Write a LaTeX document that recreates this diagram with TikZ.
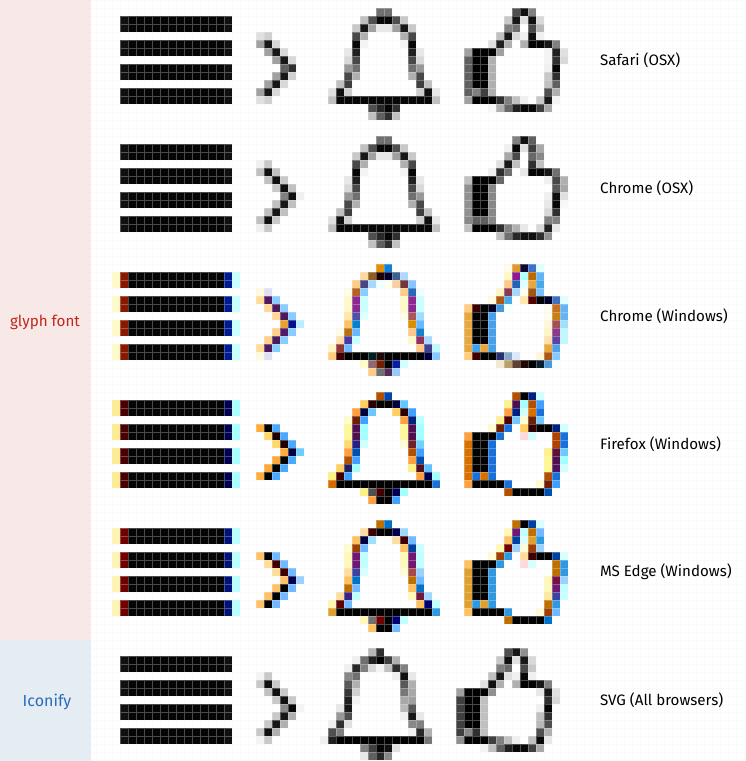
\documentclass[tikz,border=0pt]{standalone}
\usepackage{fontspec}
\setmainfont{Fira Sans}

\definecolor{glyphbg}{HTML}{F8E8E6}
\definecolor{iconifybg}{HTML}{E4ECF4}
\definecolor{glyphred}{HTML}{C0281C}
\definecolor{iconifyblue}{HTML}{2A6CB8}

% one row of cells: column/colour pairs
\newcommand{\pixrow}[2]{%
    \foreach \k/\h in {#2} {
        \definecolor{pixcol}{HTML}{\h}
        \fill[pixcol] (\k*8,#1*8) rectangle ++(8,8);
    }
}
\newcommand{\grayrow}[2]{%
    \foreach \k/\h in {#2} {
        \edef\hh{\h\h\h}
        \definecolor{pixcol}{HTML}{\hh}
        \fill[pixcol] (\k*8,#1*8) rectangle ++(8,8);
    }
}
\newcommand{\pixspan}[4]{%
    \definecolor{pixcol}{HTML}{#4}
    \fill[pixcol] (#2*8,#1*8) rectangle (#3*8+8,#1*8+8);
}
\newcommand{\menubars}[4]{%
    \foreach \r in {2,3,5,6,8,9,11,12} {
        \pixrow{\r}{14/#1,15/#2,28/#3,29/#4}
        \pixspan{\r}{16}{27}{050505}
    }
}

% gray icons
\newcommand{\chevronSafari}{
    \grayrow{4}{32/E0,33/D0}
    \grayrow{5}{32/A0,33/18,34/D8}
    \grayrow{6}{33/A0,34/18,35/D8}
    \grayrow{7}{34/A0,35/18,36/D8}
    \grayrow{8}{35/60,36/30}
    \grayrow{9}{34/A0,35/18,36/D0}
    \grayrow{10}{33/A0,34/18,35/D8}
    \grayrow{11}{32/A0,33/18,34/D8}
    \grayrow{12}{32/E0,33/D0}
}
\newcommand{\chevronChrome}{
    \grayrow{4}{32/F0,33/C8}
    \grayrow{5}{32/C0,33/10,34/C0}
    \grayrow{6}{33/C0,34/10,35/C8}
    \grayrow{7}{34/C8,35/10,36/C0}
    \grayrow{8}{35/80,36/10,37/F0}
    \grayrow{9}{34/C0,35/18,36/C0}
    \grayrow{10}{33/C0,34/18,35/C0}
    \grayrow{11}{32/C0,33/10,34/C8}
    \grayrow{12}{32/F0,33/C8}
}
\newcommand{\chevronSvg}{
    \grayrow{4}{32/F4,33/C8}
    \grayrow{5}{32/C8,33/10,34/C8}
    \grayrow{6}{33/C0,34/10,35/C8}
    \grayrow{7}{34/C8,35/10,36/C8}
    \grayrow{8}{35/88,36/08,37/F4}
    \grayrow{9}{34/C8,35/18,36/B0}
    \grayrow{10}{33/C8,34/18,35/B0}
    \grayrow{11}{32/C8,33/10,34/B0}
    \grayrow{12}{32/F4,33/C8}
}
\newcommand{\bellOsx}{
    \grayrow{1}{47/70,48/70}
    \grayrow{2}{45/C0,46/50,47/08,48/08,49/50,50/C8}
    \grayrow{3}{44/C8,45/18,46/A0,47/E8,48/E8,49/A0,50/18,51/C8}
    \grayrow{4}{44/48,45/B0,50/B0,51/48}
    \grayrow{5}{44/08,45/F4,50/F4,51/08}
    \grayrow{6}{43/E8,44/20,51/20,52/E8}
    \grayrow{7}{43/D8,44/48,51/48,52/D8}
    \grayrow{8}{43/98,44/70,51/70,52/98}
    \grayrow{9}{43/48,44/B0,51/B0,52/48}
    \grayrow{10}{42/C0,43/40,52/40,53/C0}
    \grayrow{11}{41/E0,42/10,43/D0,52/D0,53/10,54/E8}
    \grayrow{12}{41/C0,54/C0}
    \pixspan{12}{42}{53}{080808}
    \grayrow{13}{46/50,47/28,48/05,49/30}
    \grayrow{14}{46/C0,47/60,48/30,49/C0}
}
\newcommand{\thumbSafari}{
    \grayrow{1}{64/50,65/10,66/80}
    \grayrow{2}{63/C8,64/18,65/E0,66/10,67/D8}
    \grayrow{3}{63/80,64/70,66/48,67/B8}
    \grayrow{4}{62/C0,63/18,64/D8,65/F0,66/10,67/F0}
    \grayrow{5}{61/E0,62/20,63/B0,65/B0,66/05,67/05,68/18,69/80}
    \grayrow{6}{58/A0,59/00,60/00,61/00,62/A0,68/F4,69/20,70/E0}
    \grayrow{7}{58/60,59/00,60/00,61/B0,68/F4,69/30,70/D8}
    \grayrow{8}{58/60,59/00,60/00,61/B0,68/F0,69/05}
    \grayrow{9}{58/60,59/00,60/00,61/B0,68/C8,69/30}
    \grayrow{10}{58/60,59/00,60/00,61/B0,68/C0,69/60}
    \grayrow{11}{58/60,59/80,60/40,61/B0,68/50,69/B0}
    \grayrow{12}{58/A0,59/00,60/00,61/00,62/30,63/80,64/C0,65/F0,67/C8,68/18,69/F4}
    \grayrow{13}{61/F8,62/B0,63/68,64/20,65/08,66/08,67/40,68/A8}
}
\newcommand{\thumbChrome}{
    \grayrow{1}{64/80,65/10,66/60}
    \grayrow{2}{63/F0,64/08,65/E0,66/40,67/A8}
    \grayrow{3}{63/A8,64/48,66/68,67/88}
    \grayrow{4}{62/E0,63/18,64/C0,66/30,67/C0}
    \grayrow{5}{61/F0,62/30,63/70,65/E8,66/05,67/05,68/18,69/70}
    \grayrow{6}{58/C0,59/00,60/00,61/00,62/68,68/F0,69/48,70/B0}
    \grayrow{7}{58/90,59/00,60/00,61/88,69/58,70/A8}
    \grayrow{8}{58/90,59/00,60/00,61/88,68/F0,69/10,70/E0}
    \grayrow{9}{58/90,59/00,60/00,61/88,68/E8,69/08,70/F8}
    \grayrow{10}{58/90,59/00,60/00,61/88,68/D8,69/30}
    \grayrow{11}{58/88,59/60,60/60,61/88,68/80,69/80}
    \grayrow{12}{58/C0,59/00,60/00,61/00,62/30,63/80,64/B0,65/E8,67/D8,68/20,69/E8}
    \grayrow{13}{62/C0,63/70,64/28,65/10,66/10,67/30,68/90}
}

\begin{document}
\begin{tikzpicture}[
    x=1pt, y=-1pt,
    gridline/.style={draw=gridgray, line width=1pt, opacity=0.3},
    sidelabel/.style={font=\fontsize{15.2}{17}\selectfont},
    rowlabel/.style={anchor=west, inner sep=0pt, font=\fontsize{15.1}{17}\selectfont},
]
\colorlet{gridgray}{black!6}
\useasboundingbox (0,0) rectangle (745,761);
\fill[white] (0,0) rectangle (745,761);

% Side panels
\fill[glyphbg] (0,0) rectangle (91,640);
\fill[iconifybg] (0,640) rectangle (91,761);

% === Safari (OSX) ===
\menubars{FFFFFF}{101010}{101010}{FFFFFF}
\chevronSafari
\bellOsx
\thumbSafari

% === Chrome (OSX) ===
\begin{scope}[shift={(0,128)}]
\menubars{FFFFFF}{101010}{101010}{FFFFFF}
\chevronChrome
\bellOsx
\thumbChrome
\end{scope}

% === Chrome (Windows) ===
\begin{scope}[shift={(0,256)}]
\menubars{FFFBC8}{8A1800}{001A90}{C8FFFF}
% chevron
\pixrow{4}{32/FFFBE0,33/E0E0F4}
\pixrow{5}{32/FFDC9A,33/501A60,34/88CCFF}
\pixrow{6}{33/FFD898,34/4E1A60,35/88CCFF}
\pixrow{7}{34/FFD898,35/4E1A5E,36/88CCFF}
\pixrow{8}{35/E8A030,36/00108A,37/B8EEFF}
\pixrow{9}{34/FFD088,35/501A66,36/88CCFF}
\pixrow{10}{33/FFD088,34/4E1A5E,35/88CCFF}
\pixrow{11}{32/FFDC98,33/501A60,34/88CCFF}
\pixrow{12}{32/FFFBE0,33/E0E0F4}
% bell
\pixrow{1}{47/E09000,48/1080D8}
\pixrow{2}{45/FFD8A0,46/905C20,47/200000,48/000030,49/3C6090,50/B0D8FF}
\pixrow{3}{44/FFCC88,45/484880,46/A8D8FF,47/F0FFFF,48/FFFFF0,49/F8D0A0,50/703838,51/88C4FF}
\pixrow{4}{43/FFFCE8,44/B86020,45/88CCFF,50/FFCC88,51/2868B8,52/F0FCFF}
\pixrow{5}{43/FFF8C8,44/8C2890,45/C8FFFF,50/FFF8C8,51/8C2890,52/C8FFFF}
\pixrow{6}{43/FFF8C8,44/8C2890,45/C8FFFF,50/FFF8C8,51/8C2890,52/C8FFFF}
\pixrow{7}{43/FFE8A8,44/5050A8,45/E0FFFF,50/FFFCE8,51/A85858,52/A0DCFF}
\pixrow{8}{43/FFC060,44/0880D0,51/D89000,52/68B8FF}
\pixrow{9}{42/FFFCE8,43/B87010,44/68B8FF,51/FFC888,52/1880D0,53/F8FFFF}
\pixrow{10}{42/FFE0A8,43/4838A0,44/C8FFFF,51/FFF8C8,52/903060,53/A8D8FF}
\pixrow{11}{41/FFF4C8,42/903838,43/70B8FF,52/FFC888,53/404090,54/C0F8FF}
\pixspan{12}{43}{52}{000000}
\pixrow{12}{41/FFCC80,42/400000,46/002020,47/200808,53/000040,54/88C8FF}
\pixrow{13}{45/FFFCC8,46/906878,47/702000,48/000000,49/0820A0,50/D0FFFF}
\pixrow{14}{46/FFCC88,47/707070,48/503058,49/98C8FF}
% thumb
\pixrow{1}{63/FFFCE8,64/E09830,65/100830,66/4070C8,67/E0FFFF}
\pixrow{2}{63/FFF8C0,64/901890,65/B0FFFF,66/C06800,67/60B4F8}
\pixrow{3}{63/FFC888,64/2060B8,65/E0FFFF,66/E8A840,67/48A8E8}
\pixrow{4}{62/FFF4C8,63/8C3850,64/A0D8FF,65/FFFCF0,66/A05810,67/78C0FF}
\pixrow{5}{61/FFFCE0,62/B05810,63/48A8E8,65/FFE8A8,66/580000,67/000000,68/000028,69/4070C0,70/E0FFFF}
\pixrow{6}{58/FFCC80,59/380000,60/000000,61/000020,62/4898E0,63/F4FFFF,68/FFFCF0,69/C87020,70/68B4F0}
\pixrow{7}{58/E8A840,59/000000,60/000000,61/48A0E8,68/FFFCF0,69/C88010,70/68B4F0}
\pixrow{8}{58/E8A840,59/000000,60/000000,61/48A0E8,68/FFF8D8,69/A85050,70/A0E0FF}
\pixrow{9}{58/E8A840,59/000000,60/000000,61/48A0E8,68/FFF4C8,69/8C3888,70/C0F8FF}
\pixrow{10}{58/E8A840,59/000000,60/000000,61/48A0E8,68/FFE0A8,69/6040A0,70/C0F8FF}
\pixrow{11}{58/E8A840,59/40A0E8,60/E8A840,61/48A0E8,68/E8A840,69/50A0E8}
\pixrow{12}{58/FFCC80,59/400000,60/000000,61/000000,62/283070,63/88A8C8,64/D8E8FF,67/FFF8D8,68/B05810,69/88C8FF}
\pixrow{13}{62/F4E8D0,63/B8A070,64/604030,65/200808,66/000000,67/082030,68/5098D8,69/F8FFFF}
\end{scope}

% === Firefox (Windows) ===
\begin{scope}[shift={(0,384)}]
\menubars{FFEC90}{480000}{000050}{A8FFFF}
% chevron
\pixrow{5}{32/FFAD3A,33/050000,34/4AA8FF}
\pixrow{6}{33/FFD868,34/200000,35/4AA8FF}
\pixrow{7}{34/FFD868,35/200000,36/4AA8FF}
\pixrow{8}{35/FFAD3A,36/000040,37/70CCFF}
\pixrow{9}{34/FFA838,35/000000,36/4AA8FF}
\pixrow{10}{33/FFA838,34/000000,35/4AA8FF}
\pixrow{11}{32/FFAD3A,33/000000,34/4AA8FF}
% bell
\pixrow{1}{47/B05000,48/0048B0}
\pixrow{2}{45/FFD060,46/300000,47/000000,48/000000,49/000040,50/60C8FF}
\pixrow{3}{44/FFA040,45/000038,46/68C8FF,49/FFD060,50/300000,51/40A0FF}
\pixrow{4}{43/FFFCD0,44/702000,45/40A0FF,50/FFA040,51/002080,52/C0FFFF}
\pixrow{5}{43/FFF898,44/501050,45/A0FFFF,50/FFF898,51/501050,52/A0FFFF}
\pixrow{6}{43/FFF898,44/501050,45/A0FFFF,50/FFF898,51/501050,52/A0FFFF}
\pixrow{7}{43/FFD870,44/282080,45/D0FFFF,50/FFFCD8,51/702028,52/70D0FF}
\pixrow{8}{43/FFA040,44/0050B0,51/B05000,52/40A0FF}
\pixrow{9}{43/B05000,44/40A0FF,51/FFA040,52/0050B0}
\pixrow{10}{42/FFD060,43/202060,44/A0FFFF,51/FFF080,52/501020,53/60C0FF}
\pixrow{11}{41/FFF080,42/400000,43/40A0FF,52/FFA040,53/000050,54/A0FFFF}
\pixspan{12}{42}{53}{000000}
\pixrow{12}{41/D86800,54/1870D8}
\pixrow{13}{45/FFF080,46/505050,47/400000,48/000000,49/000050,50/A0FFFF}
\pixrow{14}{46/FFA040,47/000000,48/000000,49/40A0FF}
% thumb
\pixrow{1}{64/B05000,65/000000,66/002080,67/D0FFFF}
\pixrow{2}{63/FFF090,64/501050,65/A0FFFF,66/B05000,67/40A0FF}
\pixrow{3}{63/FFA040,64/002080,65/D0FFFF,66/D87000,67/1870D8}
\pixrow{4}{62/FFF090,63/500000,64/70C8FF,65/FFFCD0,66/702000,67/70C8FF}
\pixrow{5}{61/FFFCD0,62/702000,63/1870D8,65/FFD060,66/300000,67/000000,68/000000,69/002080,70/D0FFFF}
\pixrow{6}{58/FFA040,59/000000,60/000000,61/000000,62/1870D8,65/FFD8D8,66/D0FFFF,69/B04000,70/1870D8}
\pixrow{7}{58/D87000,59/000000,60/000000,61/1870D8,69/B04000,70/1870D8}
\pixrow{8}{58/D87000,59/000000,60/000000,61/1870D8,68/FFF090,69/601030,70/70C8FF}
\pixrow{9}{58/D87000,59/000000,60/000000,61/1870D8,68/FFF890,69/501050,70/A0FFFF}
\pixrow{10}{58/D87000,59/000000,60/000000,61/1870D8,68/FFF890,69/501060,70/D0FFFF}
\pixrow{11}{58/D87000,59/1870D8,60/D87000,61/1870D8,68/B05000,69/1870D8}
\pixrow{12}{58/FFA040,59/000000,60/000000,61/000000,62/000000,63/1870D8,67/FFFCD0,68/702000,69/40A0FF}
\pixrow{13}{63/B05000,64/000000,65/000000,66/000000,67/000000,68/0050B0}
\end{scope}

% === MS Edge (Windows) ===
\begin{scope}[shift={(0,512)}]
\menubars{FFF4B0}{700000}{001478}{B8FFFF}
% chevron
\pixrow{5}{32/FFC068,33/000000,34/70B8FF}
\pixrow{6}{33/FFDC98,34/400000,35/70B8FF}
\pixrow{7}{34/FFDC98,35/400000,36/70B8FF}
\pixrow{8}{35/FFC068,36/000050,37/98D0FF}
\pixrow{9}{34/FFC068,35/000000,36/70B8FF}
\pixrow{10}{33/FFC068,34/000000,35/70B8FF}
\pixrow{11}{32/FFC068,33/000000,34/70B8FF}
% bell
\pixrow{1}{47/C07000,48/0070C8}
\pixrow{2}{45/FFDCA0,46/400000,47/000000,48/000000,49/000050,50/A0D8FF}
\pixrow{3}{44/FFC060,45/000040,46/A0E0FF,49/FFDCA0,50/400000,51/70B8FF}
\pixrow{4}{43/FFFCD0,44/A04000,45/70B8FF,50/FFC060,51/0040A0,52/C8FFFF}
\pixrow{5}{43/FFF8B8,44/701870,45/C0FFFF,50/FFF8B8,51/701870,52/C0FFFF}
\pixrow{6}{43/FFF8B8,44/701870,45/C0FFFF,50/FFF8B8,51/701870,52/C0FFFF}
\pixrow{7}{43/FFDCA0,44/4040A0,45/D8FFFF,50/FFFCD8,51/A84848,52/98D0FF}
\pixrow{8}{43/FFC060,44/0070C8,51/C07000,52/70B8FF}
\pixrow{9}{43/C07000,44/70B8FF,51/FFC060,52/0070C8}
\pixrow{10}{42/FFDCA0,43/402080,44/C0FFFF,51/FFF8B8,52/701840,53/A0D8FF}
\pixrow{11}{41/FFF4B0,42/600000,43/70B8FF,52/FFC060,53/000070,54/C0FFFF}
\pixspan{12}{42}{53}{000000}
\pixrow{12}{41/E0A030,54/3098E0}
\pixrow{13}{45/FFF8B8,46/707070,47/700000,48/000000,49/000070,50/C0FFFF}
\pixrow{14}{46/FFC060,47/000000,48/000000,49/70B8FF}
% thumb
\pixrow{1}{64/C07000,65/000000,66/0040A0,67/D8FFFF}
\pixrow{2}{63/FFF8B8,64/701870,65/C0FFFF,66/C07000,67/70B8FF}
\pixrow{3}{63/FFC060,64/0040A0,65/D8FFFF,66/E0A030,67/3098E0}
\pixrow{4}{62/FFF8B8,63/700000,64/98D0FF,65/FFFCD8,66/A04000,67/98D0FF}
\pixrow{5}{61/FFFCD8,62/A04000,63/3098E0,65/FFDC98,66/400000,67/000000,68/000000,69/0040A0,70/D8FFFF}
\pixrow{6}{58/FFC060,59/000000,60/000000,61/000000,62/3098E0,65/FFD8D8,66/D8FFFF,69/C07000,70/3098E0}
\pixrow{7}{58/E0A030,59/000000,60/000000,61/3098E0,69/C07000,70/3098E0}
\pixrow{8}{58/E0A030,59/000000,60/000000,61/3098E0,68/FFF8B8,69/781040,70/98D0FF}
\pixrow{9}{58/E0A030,59/000000,60/000000,61/3098E0,68/FFF8B8,69/701870,70/C0FFFF}
\pixrow{10}{58/E0A030,59/000000,60/000000,61/3098E0,68/FFE8A0,69/4040A0,70/C8FFFF}
\pixrow{11}{58/E0A030,59/3098E0,60/E0A030,61/3098E0,68/C07000,69/3098E0}
\pixrow{12}{58/FFC060,59/000000,60/000000,61/000000,62/000000,63/3098E0,67/FFFCD8,68/A04000,69/70B8FF}
\pixrow{13}{63/C07000,64/000000,65/000000,66/000000,67/000000,68/0070C8}
\end{scope}

% === SVG (All browsers) ===
\begin{scope}[shift={(0,640)}]
\menubars{FFFFFF}{101010}{101010}{FFFFFF}
\chevronSvg
% bell
\grayrow{1}{46/B8,47/30}
\grayrow{2}{44/F0,45/70,46/20,47/00,48/40,49/B0}
\grayrow{3}{43/F0,44/28,45/80,46/D8,47/F4,48/C0,49/30,50/80}
\grayrow{4}{43/88,44/70,49/F0,50/10,51/E8}
\grayrow{5}{43/58,44/B0,50/58,51/B0}
\grayrow{6}{43/38,44/D0,50/78,51/A8}
\grayrow{7}{43/20,44/F4,50/A8,51/A0}
\grayrow{8}{42/E8,43/18,50/B8,51/58}
\grayrow{9}{42/98,43/50,50/F0,51/18,52/E8}
\grayrow{10}{41/F0,42/30,43/E0,51/88,52/80}
\grayrow{11}{41/50,42/80,51/F0,52/28,53/B0}
\pixspan{12}{42}{52}{000000}
\grayrow{12}{40/F0,41/20,53/78}
\grayrow{13}{45/80,46/40,47/05,48/10,49/E0}
\grayrow{14}{45/E8,46/60,47/28,48/88}
% thumb
\grayrow{1}{63/50,64/18,65/90}
\grayrow{2}{62/C8,63/10,64/E0,65/18,66/D8}
\grayrow{3}{62/80,63/68,65/48,66/C8}
\grayrow{4}{61/C0,62/18,63/E0,64/F0,65/08,66/F0}
\grayrow{5}{60/E0,61/10,62/B0,64/B0,65/00,66/00,67/18,68/80}
\grayrow{6}{57/A0,58/00,59/00,60/00,61/90,67/E8,68/18,69/E0}
\grayrow{7}{57/40,58/00,59/00,60/C0,68/30,69/D8}
\grayrow{8}{57/40,58/00,59/00,60/C0,67/F0,68/05}
\grayrow{9}{57/40,58/00,59/00,60/C0,67/C0,68/30}
\grayrow{10}{57/40,58/00,59/00,60/C0,67/B8,68/50}
\grayrow{11}{57/40,58/88,59/30,60/C0,67/50,68/B0}
\grayrow{12}{57/90,58/00,59/00,60/00,61/40,62/80,63/C0,64/F0,66/C0,67/08,68/E8}
\grayrow{13}{60/F4,61/C0,62/60,63/20,64/08,65/08,66/40,67/A8}
\end{scope}

% Cell grid
\draw[gridline]
    \foreach \k in {0,...,93} {(\k*8+0.5,0) -- ++(0,761)}
    \foreach \k in {0,...,95} {(0,\k*8+0.5) -- ++(745,0)};

% Labels
\node[sidelabel, text=glyphred] (glyph) at (45,322) {glyph font};
\node[sidelabel, text=iconifyblue, font=\fontsize{16}{18}\selectfont] (iconify) at (47,702) {Iconify};

\node[rowlabel] (safari) at (600,60) {Safari (OSX)};
\node[rowlabel] (chromeosx) at (600,188) {Chrome (OSX)};
\node[rowlabel] (chromewin) at (600,316) {Chrome (Windows)};
\node[rowlabel] (firefox) at (600,444) {Firefox (Windows)};
\node[rowlabel] (edge) at (600,572) {MS Edge (Windows)};
\node[rowlabel] (svg) at (600,700) {SVG (All browsers)};

\end{tikzpicture}
\end{document}
